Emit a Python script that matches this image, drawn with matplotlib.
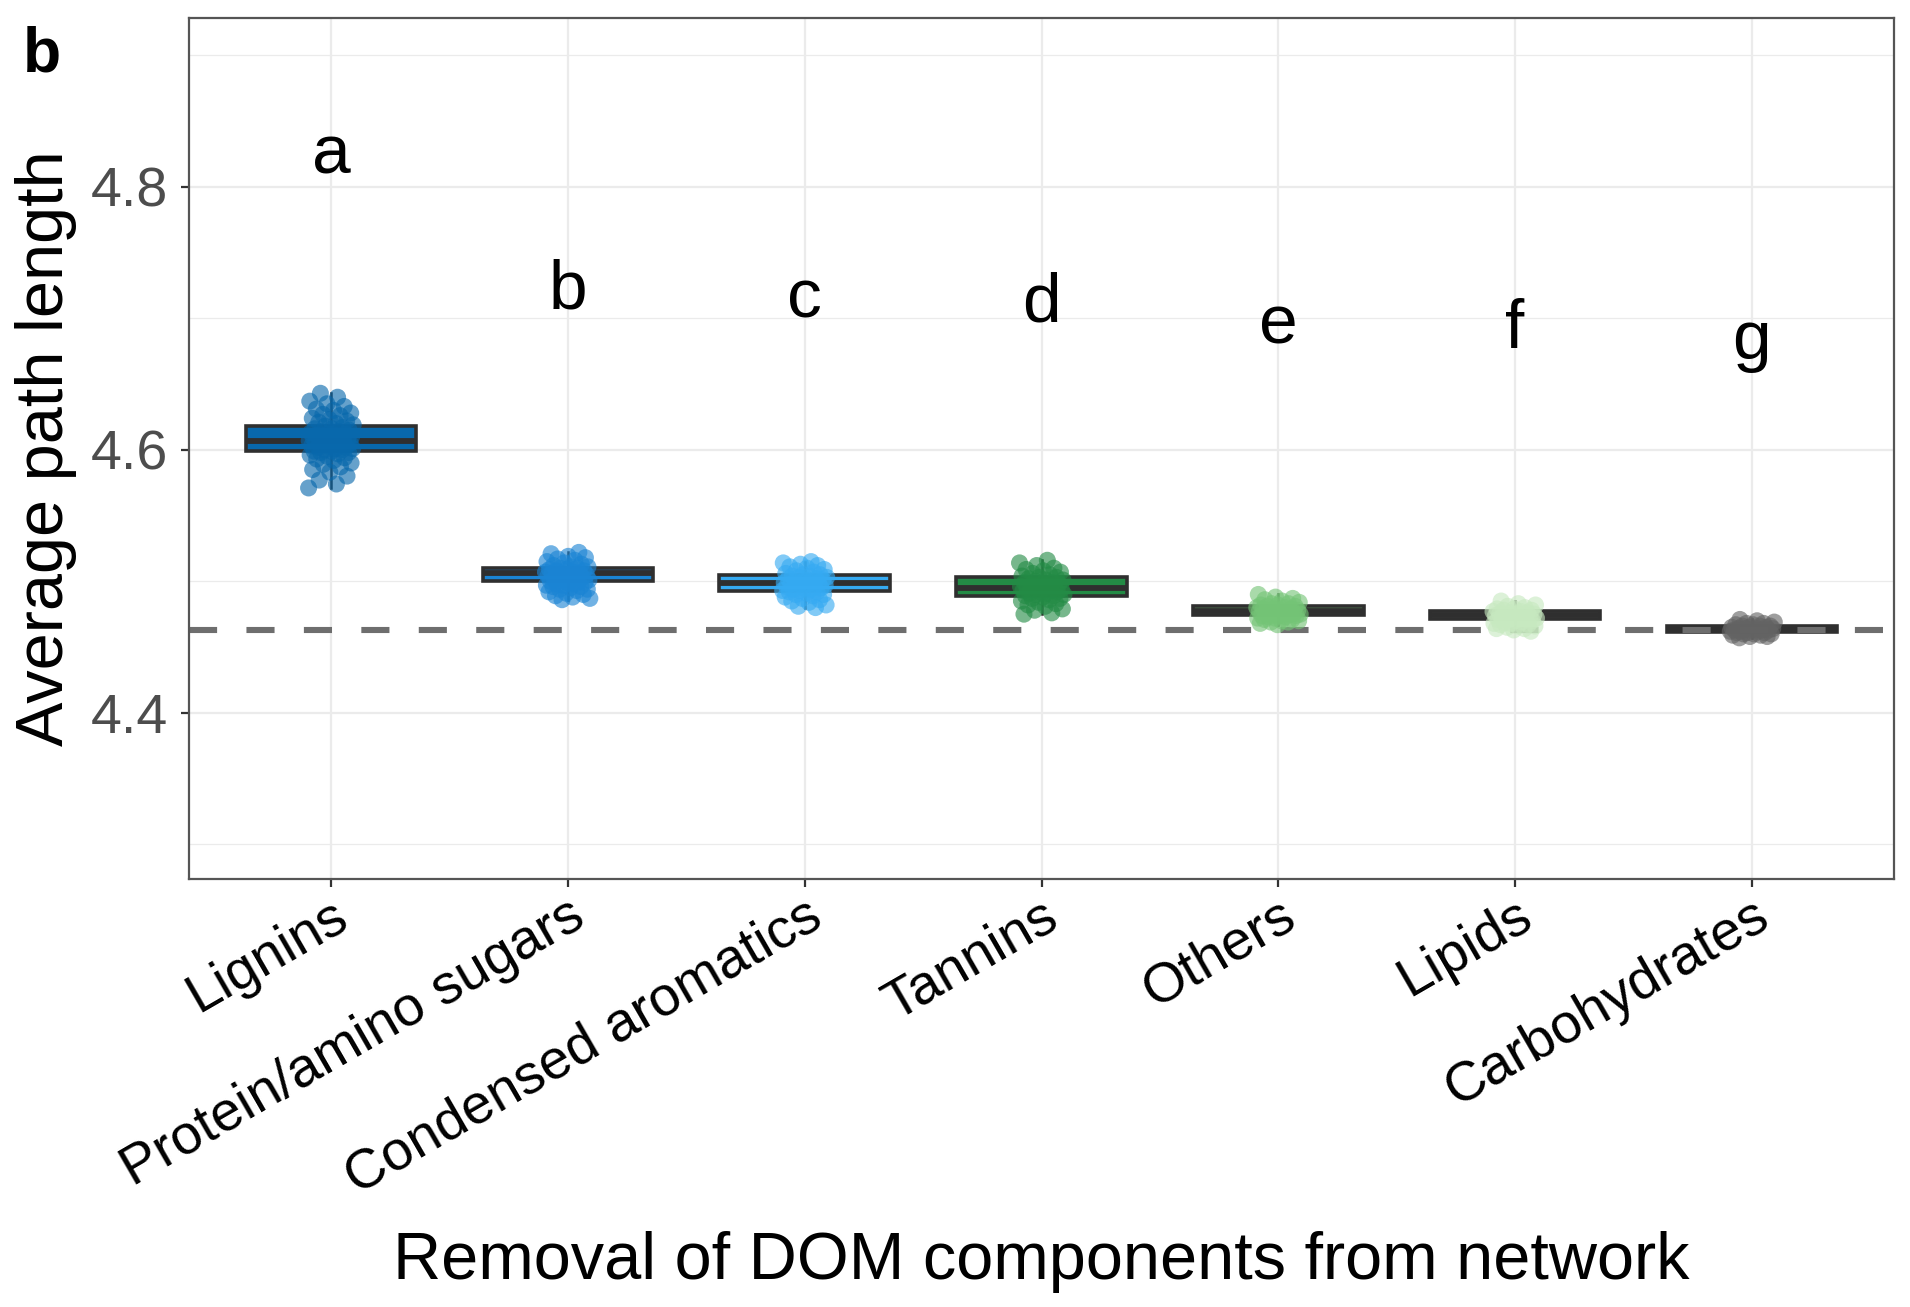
#!/usr/bin/env python3
# coding: utf-8
"""
Average path length after removing each DOM component class from the network.
Boxplot + jittered points, ggplot theme_bw look.
"""

import numpy as np
import matplotlib
matplotlib.use("Agg")
import matplotlib.pyplot as plt
from matplotlib.ticker import FixedLocator

plt.rcParams["font.family"] = ["Liberation Sans", "DejaVu Sans"]

# -------- 0. data ----------
CATEGORIES = ["Lignins", "Protein/amino sugars", "Condensed aromatics",
              "Tannins", "Others", "Lipids", "Carbohydrates"]
COLORS = ["#0868ac", "#1a84d4", "#35aaf2", "#238b45",
          "#74c476", "#c7e9c0", "#636363"]
LETTERS = ["a", "b", "c", "d", "e", "f", "g"]
LETTER_Y = [4.8105, 4.7078, 4.7010, 4.6979, 4.6812, 4.6774, 4.6690]

Q1 = [4.599, 4.500, 4.493, 4.489, 4.4745, 4.4715, 4.4615]
MED = [4.607, 4.506, 4.499, 4.495, 4.4775, 4.4745, 4.4637]
Q3 = [4.618, 4.510, 4.505, 4.503, 4.4810, 4.4775, 4.4660]

BASELINE = 4.463   # full network

PTS_LIGNINS = [4.571, 4.574, 4.577, 4.580, 4.583, 4.585, 4.587, 4.589, 4.590,
               4.592, 4.593, 4.594, 4.595, 4.596, 4.597, 4.598, 4.598, 4.599,
               4.599, 4.600, 4.600, 4.601, 4.601, 4.602, 4.602, 4.603, 4.603,
               4.604, 4.604, 4.605, 4.605, 4.606, 4.606, 4.606, 4.607, 4.607,
               4.607, 4.608, 4.608, 4.609, 4.609, 4.610, 4.610, 4.611, 4.611,
               4.612, 4.612, 4.613, 4.614, 4.614, 4.615, 4.616, 4.616, 4.617,
               4.618, 4.619, 4.620, 4.621, 4.622, 4.623, 4.624, 4.626, 4.627,
               4.628, 4.630, 4.631, 4.633, 4.635, 4.637, 4.640, 4.643]
PTS_PROTEIN = [4.486, 4.487, 4.488, 4.489, 4.490, 4.491, 4.492, 4.493, 4.494,
               4.494, 4.495, 4.496, 4.496, 4.497, 4.497, 4.498, 4.498, 4.499,
               4.499, 4.500, 4.500, 4.501, 4.501, 4.502, 4.502, 4.503, 4.503,
               4.504, 4.504, 4.505, 4.505, 4.505, 4.506, 4.506, 4.506, 4.507,
               4.507, 4.508, 4.508, 4.509, 4.509, 4.510, 4.510, 4.511, 4.511,
               4.512, 4.513, 4.514, 4.515, 4.516, 4.517, 4.518, 4.519, 4.521,
               4.522]
PTS_CONDENSED = [4.480, 4.481, 4.482, 4.484, 4.485, 4.486, 4.487, 4.488, 4.489,
                 4.490, 4.490, 4.491, 4.492, 4.492, 4.493, 4.493, 4.494, 4.494,
                 4.495, 4.495, 4.496, 4.496, 4.497, 4.497, 4.498, 4.498, 4.499,
                 4.499, 4.499, 4.500, 4.500, 4.501, 4.501, 4.502, 4.502, 4.503,
                 4.503, 4.504, 4.504, 4.505, 4.505, 4.506, 4.507, 4.508, 4.509,
                 4.510, 4.511, 4.512, 4.513, 4.514, 4.515]
PTS_TANNINS = [4.475, 4.476, 4.478, 4.479, 4.481, 4.482, 4.483, 4.484, 4.485,
               4.486, 4.487, 4.487, 4.488, 4.489, 4.489, 4.490, 4.490, 4.491,
               4.491, 4.492, 4.492, 4.493, 4.493, 4.494, 4.494, 4.495, 4.495,
               4.495, 4.496, 4.496, 4.497, 4.497, 4.498, 4.498, 4.499, 4.499,
               4.500, 4.501, 4.501, 4.502, 4.503, 4.503, 4.504, 4.505, 4.506,
               4.507, 4.508, 4.509, 4.510, 4.512, 4.514, 4.516]
PTS_OTHERS = [4.467, 4.468, 4.469, 4.469, 4.470, 4.470, 4.471, 4.471, 4.472,
              4.472, 4.473, 4.473, 4.474, 4.474, 4.474, 4.475, 4.475, 4.475,
              4.476, 4.476, 4.476, 4.477, 4.477, 4.477, 4.478, 4.478, 4.478,
              4.479, 4.479, 4.479, 4.480, 4.480, 4.481, 4.481, 4.482, 4.482,
              4.483, 4.483, 4.484, 4.485, 4.486, 4.487, 4.488, 4.490]
PTS_LIPIDS = [4.462, 4.463, 4.464, 4.464, 4.465, 4.466, 4.466, 4.467, 4.467,
              4.468, 4.468, 4.469, 4.469, 4.470, 4.470, 4.471, 4.471, 4.472,
              4.472, 4.472, 4.473, 4.473, 4.473, 4.474, 4.474, 4.474, 4.475,
              4.475, 4.475, 4.476, 4.476, 4.477, 4.477, 4.478, 4.478, 4.479,
              4.479, 4.480, 4.481, 4.482, 4.483, 4.485]
PTS_CARBO = [4.457, 4.458, 4.458, 4.459, 4.459, 4.460, 4.460, 4.460, 4.461,
             4.461, 4.461, 4.462, 4.462, 4.462, 4.463, 4.463, 4.463, 4.463,
             4.464, 4.464, 4.464, 4.464, 4.465, 4.465, 4.465, 4.466, 4.466,
             4.466, 4.467, 4.467, 4.468, 4.468, 4.469, 4.470, 4.471]
POINTS = [PTS_LIGNINS, PTS_PROTEIN, PTS_CONDENSED, PTS_TANNINS,
          PTS_OTHERS, PTS_LIPIDS, PTS_CARBO]

# -------- 1. figure ----------
W, H = 1910, 1307
fig = plt.figure(figsize=(W / 100, H / 100), dpi=100)
ax = fig.add_axes([189 / W, 1 - 879 / H, (1894 - 189) / W, (879 - 18) / H])

pos = np.arange(1, len(CATEGORIES) + 1)

# box stats (ggplot style whiskers: 1.5 IQR, clipped to data)
stats = []
for i in range(len(CATEGORIES)):
    iqr = Q3[i] - Q1[i]
    pts = np.asarray(POINTS[i])
    lo = pts[pts >= Q1[i] - 1.5 * iqr].min()
    hi = pts[pts <= Q3[i] + 1.5 * iqr].max()
    stats.append(dict(q1=Q1[i], med=MED[i], q3=Q3[i], whislo=lo, whishi=hi,
                      label=CATEGORIES[i]))

dark = "#2f2f2f"
bp = ax.bxp(stats, positions=pos, widths=0.72, patch_artist=True,
            showfliers=False, showcaps=False,
            boxprops=dict(edgecolor=dark, linewidth=2.6),
            medianprops=dict(color=dark, linewidth=4.2, solid_capstyle="butt"),
            whiskerprops=dict(color=dark, linewidth=1.8),
            zorder=2)
for patch, c in zip(bp["boxes"], COLORS):
    patch.set_facecolor(c)

# jittered points (deterministic low-discrepancy offsets)
golden = (np.sqrt(5) - 1) / 2
for i, pts in enumerate(POINTS):
    n = len(pts)
    off = ((np.arange(n) * golden + 0.37 * i) % 1.0 - 0.5) * 0.19
    ax.scatter(pos[i] + off, pts, s=150, color=COLORS[i], alpha=0.62,
               edgecolors="none", zorder=3)

# reference line (full network)
ax.axhline(BASELINE, color="#6e6e6e", linewidth=4.4,
           linestyle=(0, (4.6, 4.8)), zorder=2.5)

# significance letters
for x, y, t in zip(pos, LETTER_Y, LETTERS):
    ax.text(x, y, t, fontsize=50, ha="center", va="baseline", color="black")

# -------- 2. axes styling (theme_bw) ----------
ax.set_xlim(0.4, 7.6)
ax.set_ylim(4.2736, 4.9284)
ax.set_yticks([4.4, 4.6, 4.8])
ax.set_yticklabels(["4.4", "4.6", "4.8"])
ax.yaxis.set_minor_locator(FixedLocator([4.3, 4.5, 4.7, 4.9]))
ax.set_xticks(pos)
ax.set_xticklabels(CATEGORIES, rotation=30, ha="right", va="top",
                   rotation_mode="anchor", fontsize=40, color="black")

ax.tick_params(axis="y", which="major", labelsize=40, labelcolor="#4d4d4d",
               length=5.8, width=1.6, color="#333333", pad=9)
ax.tick_params(axis="x", which="major", length=5.8, width=1.6,
               color="#333333", pad=2)
ax.tick_params(axis="y", which="minor", length=0)

ax.set_axisbelow(True)
ax.grid(which="major", color="#ebebeb", linewidth=1.6)
ax.grid(which="minor", axis="y", color="#ebebeb", linewidth=0.9)
for s in ax.spines.values():
    s.set_color("#555555")
    s.set_linewidth(1.6)

fig.text(63 / W, 1 - 448 / H, "Average path length", fontsize=48,
         rotation=90, rotation_mode="anchor", ha="center", va="baseline")
fig.text(1041 / W, 1 - 1279 / H, "Removal of DOM components from network",
         fontsize=48, ha="center", va="baseline")
fig.text(23 / W, 1 - 72 / H, "b", fontsize=45, fontweight="bold",
         ha="left", va="baseline")

fig.savefig("out.png", dpi=100)
